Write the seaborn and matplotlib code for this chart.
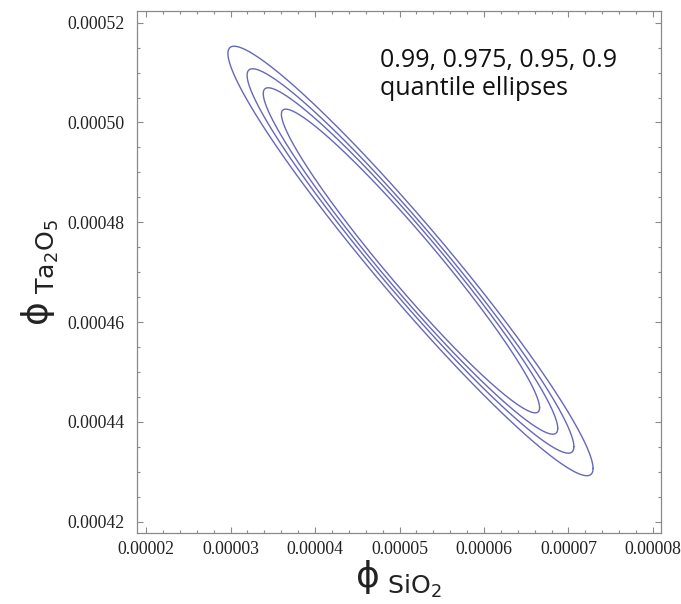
import numpy as np
import pandas as pd
import matplotlib
matplotlib.use("Agg")
import matplotlib.pyplot as plt
import seaborn as sns
from matplotlib.ticker import MultipleLocator

# fitted bivariate normal
center = [5.13e-05, 4.7225e-04]
sigma_x = 7.12e-06
sigma_y = 1.418e-05
rho = -0.966
quantiles = [0.99, 0.975, 0.95, 0.9]

x_ticks = [0.00002, 0.00003, 0.00004, 0.00005, 0.00006, 0.00007, 0.00008]
x_labels = ["0.00002", "0.00003", "0.00004", "0.00005", "0.00006", "0.00007", "0.00008"]
y_ticks = [0.00042, 0.00044, 0.00046, 0.00048, 0.00050, 0.00052]
y_labels = ["0.00042", "0.00044", "0.00046", "0.00048", "0.00050", "0.00052"]

sns.set_style("ticks")
plt.rcParams['mathtext.fontset'] = 'dejavusans'

# quantile ellipse: (x-mu)' S^-1 (x-mu) = chi2_2(p) = -2 ln(1-p)
cov = np.array([[sigma_x**2, rho*sigma_x*sigma_y],
                [rho*sigma_x*sigma_y, sigma_y**2]])
L = np.linalg.cholesky(cov)
t = np.linspace(0, 2*np.pi, 600)
rows = []
for q in quantiles:
    r = np.sqrt(-2*np.log(1-q))
    pts = L @ np.vstack([np.cos(t), np.sin(t)]) * r
    rows.append(pd.DataFrame({"x": center[0] + pts[0], "y": center[1] + pts[1], "q": q}))
df = pd.concat(rows, ignore_index=True)

fig = plt.figure(figsize=(6.81, 6.04), dpi=100)
ax = fig.add_axes([137/681, 71/604, 524/681, 522/604])
sns.lineplot(data=df, x="x", y="y", units="q", estimator=None, sort=False,
             color="#6668b8", linewidth=1.0, ax=ax)

ax.set_xlim(0.00001893, 0.00008095)
ax.set_ylim(0.00041774, 0.00052234)
ax.set_xticks(x_ticks)
ax.set_xticklabels(x_labels)
ax.set_yticks(y_ticks)
ax.set_yticklabels(y_labels)
ax.xaxis.set_minor_locator(MultipleLocator(0.000002))
ax.yaxis.set_minor_locator(MultipleLocator(0.000005))

for s in ax.spines.values():
    s.set_visible(True)
    s.set_color("#8a8a8a")
    s.set_linewidth(0.9)
ax.tick_params(which="both", direction="in", top=True, right=True, color="#8a8a8a", width=0.8)
ax.tick_params(which="major", length=4)
ax.tick_params(which="minor", length=2.5)
ax.tick_params(axis="x", which="major", pad=6)
ax.tick_params(axis="y", which="major", pad=9)
for lab in ax.get_xticklabels() + ax.get_yticklabels():
    lab.set_fontfamily("Liberation Serif")
    lab.set_fontsize(12.8)
    lab.set_color("#222222")

ax.set_xlabel("\u03d5" + r"$_{\ \mathregular{SiO_2}}$", fontsize=26, labelpad=0, color="#222222")
ax.set_ylabel("\u03d5" + r"$_{\ \mathregular{Ta_2O_5}}$", fontsize=26, labelpad=5, color="#222222")

ax.text(0.464, 0.93, "0.99, 0.975, 0.95, 0.9\nquantile ellipses", transform=ax.transAxes,
        ha="left", va="top", fontsize=18, family="Open Sans", linespacing=1.2,
        color="#111111")

fig.savefig("out.png", dpi=100)
